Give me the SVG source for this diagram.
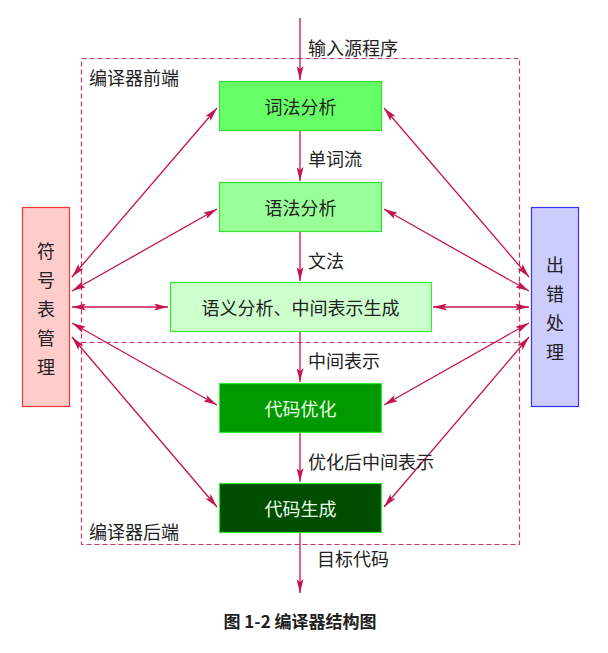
<svg xmlns="http://www.w3.org/2000/svg" width="608" height="653" viewBox="0 0 608 653">
<style>
text{font-family:"Noto Sans CJK SC","Noto Sans",sans-serif;font-size:18px;fill:#222;}
.c{text-anchor:middle;dominant-baseline:central;}
.l{dominant-baseline:central;}
.ln{stroke:#c41550;stroke-width:1.3;fill:none;}
.dash{stroke:#c8336a;stroke-width:1.2;fill:none;stroke-dasharray:5 3;}
.w{fill:#e8ffe8;}
</style>
<defs>
<marker id="ah" viewBox="0 0 14 7" refX="14" refY="3.5" markerWidth="14" markerHeight="7" markerUnits="userSpaceOnUse" orient="auto-start-reverse">
<path d="M0,0 L14,3.5 L0,7 L3,3.5 z" fill="#c41550"/>
</marker>
</defs>
<rect width="608" height="653" fill="#fff"/>
<g id="frames">
<rect class="dash" x="81.5" y="58.5" width="438" height="486"/>
<line class="dash" x1="81.5" y1="342.5" x2="519.5" y2="342.5"/>
<text class="l" x="89" y="77">编译器前端</text>
<text class="l" x="89" y="531">编译器后端</text>
</g>
<g id="connectors">
<line class="ln" x1="300" y1="18" x2="300" y2="80" marker-end="url(#ah)"/>
<line class="ln" x1="300" y1="131" x2="300" y2="181" marker-end="url(#ah)"/>
<line class="ln" x1="300" y1="232" x2="300" y2="281" marker-end="url(#ah)"/>
<line class="ln" x1="300" y1="332" x2="300" y2="382" marker-end="url(#ah)"/>
<line class="ln" x1="300" y1="433" x2="300" y2="482" marker-end="url(#ah)"/>
<line class="ln" x1="300" y1="533" x2="300" y2="593" marker-end="url(#ah)"/>
<line class="ln" x1="72" y1="277" x2="217" y2="108" marker-start="url(#ah)" marker-end="url(#ah)"/>
<line class="ln" x1="72" y1="291" x2="217" y2="209" marker-start="url(#ah)" marker-end="url(#ah)"/>
<line class="ln" x1="72" y1="307" x2="168" y2="307" marker-start="url(#ah)" marker-end="url(#ah)"/>
<line class="ln" x1="72" y1="323" x2="217" y2="405" marker-start="url(#ah)" marker-end="url(#ah)"/>
<line class="ln" x1="72" y1="337" x2="217" y2="507" marker-start="url(#ah)" marker-end="url(#ah)"/>
<line class="ln" x1="529" y1="277" x2="384" y2="108" marker-start="url(#ah)" marker-end="url(#ah)"/>
<line class="ln" x1="529" y1="291" x2="384" y2="209" marker-start="url(#ah)" marker-end="url(#ah)"/>
<line class="ln" x1="529" y1="307" x2="433" y2="307" marker-start="url(#ah)" marker-end="url(#ah)"/>
<line class="ln" x1="529" y1="323" x2="384" y2="405" marker-start="url(#ah)" marker-end="url(#ah)"/>
<line class="ln" x1="529" y1="337" x2="384" y2="507" marker-start="url(#ah)" marker-end="url(#ah)"/>
<text class="l" x="308" y="47">输入源程序</text>
<text class="l" x="308" y="158">单词流</text>
<text class="l" x="308" y="260">文法</text>
<text class="l" x="308" y="360">中间表示</text>
<text class="l" x="308" y="461">优化后中间表示</text>
<text class="l" x="317" y="558">目标代码</text>
</g>
<g id="lex">
<rect x="219.5" y="81.5" width="162" height="49" fill="#66ff66" stroke="#33dd33" stroke-width="1.2"/>
<text class="c" x="300.5" y="106">词法分析</text>
</g>
<g id="syntax">
<rect x="219.5" y="182.5" width="162" height="49" fill="#99ff99" stroke="#33dd33" stroke-width="1.2"/>
<text class="c" x="300.5" y="207">语法分析</text>
</g>
<g id="semantic">
<rect x="170.5" y="282.5" width="261" height="49" fill="#ccffcc" stroke="#33ee33" stroke-width="1.2"/>
<text class="c" x="300.5" y="307">语义分析、中间表示生成</text>
</g>
<g id="optimize">
<rect x="219.5" y="383.5" width="162" height="49" fill="#009900" stroke="#33ee33" stroke-width="1.2"/>
<text class="c w" x="300.5" y="408">代码优化</text>
</g>
<g id="codegen">
<rect x="219.5" y="483.5" width="162" height="49" fill="#004d00" stroke="#33ee33" stroke-width="1.2"/>
<text class="c w" x="300.5" y="508">代码生成</text>
</g>
<g id="symtab">
<rect x="22.5" y="207.5" width="47" height="199" fill="#ffcccc" stroke="#ff3333" stroke-width="1.2"/>
<text class="c" x="46" y="250">符</text>
<text class="c" x="46" y="279">号</text>
<text class="c" x="46" y="308">表</text>
<text class="c" x="46" y="337">管</text>
<text class="c" x="46" y="366">理</text>
</g>
<g id="error">
<rect x="531.5" y="207.5" width="47" height="199" fill="#ccccff" stroke="#3333ff" stroke-width="1.2"/>
<text class="c" x="555" y="264">出</text>
<text class="c" x="555" y="293">错</text>
<text class="c" x="555" y="322">处</text>
<text class="c" x="555" y="351">理</text>
</g>
<g id="caption">
<text class="c" x="300" y="620" style="font-weight:bold;font-size:17px">图 1-2 编译器结构图</text>
</g>
</svg>
